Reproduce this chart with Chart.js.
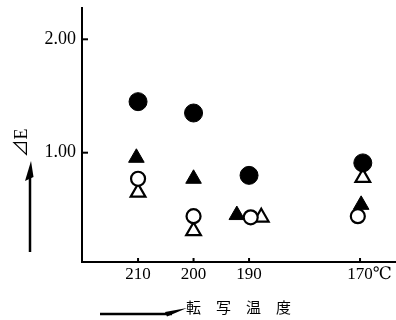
<!DOCTYPE html>
<html>
<head>
<meta charset="utf-8">
<script src="https://cdn.jsdelivr.net/npm/chart.js@4/dist/chart.umd.min.js"></script>
<style>
  html,body{margin:0;padding:0;background:#fff;}
  #wrap{width:396px;height:320px;}
</style>
</head>
<body>
<div id="wrap"><canvas id="grafica" width="396" height="320"></canvas></div>
<script>
// =========================
// DATOS
// =========================
const xTicks = [210, 200, 190, 170];
const yTicks = [1, 2];

// ● 
const filledCircleX = [210, 200, 190, 169.5];
const filledCircleY = [1.45, 1.35, 0.80, 0.91];
// ○
const openCircleX = [210, 200, 189.7, 170.4];
const openCircleY = [0.77, 0.44, 0.43, 0.44];
// ▲
const filledTriX = [210.3, 200, 192.2, 169.8];
const filledTriY = [0.955, 0.77, 0.45, 0.54];
// △
const openTriX = [210, 200, 187.8, 169.5];
const openTriY = [0.65, 0.31, 0.43, 0.78];

const serif = "'Liberation Serif', 'DejaVu Serif', 'Noto Sans CJK JP', serif";
const titleFont = "'Liberation Serif', 'Noto Sans CJK JP', serif";
const cjk = "'Noto Sans CJK JP', sans-serif";

function puntos(xs, ys){
  return xs.map((x, i) => ({x, y: ys[i]}));
}

// sin relleno automático para etiquetas extremas
function sinPadding(s){
  s.paddingLeft = 0; s.paddingRight = 0; s.paddingTop = 0; s.paddingBottom = 0;
}

// =========================
// FLECHAS / MARCAS
// =========================
const extras = {
  id: 'extras',
  afterDraw(chart){
    const {ctx, chartArea: a} = chart;
    const xs = chart.scales.x, ys = chart.scales.y;
    ctx.save();
    ctx.strokeStyle = '#000';
    ctx.fillStyle = '#000';

    // marcas hacia dentro
    ctx.lineWidth = 2;
    xTicks.forEach(v => {
      const px = xs.getPixelForValue(v);
      ctx.beginPath(); ctx.moveTo(px, a.bottom); ctx.lineTo(px, a.bottom - 4); ctx.stroke();
    });
    yTicks.forEach(v => {
      const py = ys.getPixelForValue(v);
      ctx.beginPath(); ctx.moveTo(a.left, py); ctx.lineTo(a.left + 6, py); ctx.stroke();
    });

    // ℃ junto a 170
    ctx.font = '17px ' + serif;
    const w = ctx.measureText('170').width;
    ctx.textAlign = 'left';
    ctx.textBaseline = 'middle';
    ctx.fillText('℃', xs.getPixelForValue(170) + w / 2, a.bottom + 13);

    // título del eje y
    ctx.save();
    ctx.translate(22, 143);
    ctx.rotate(-Math.PI / 2);
    ctx.textAlign = 'center';
    ctx.font = '18px ' + titleFont;
    ctx.fillText('⊿E', 0, 0);
    ctx.restore();

    // flecha vertical
    ctx.lineWidth = 2.5;
    ctx.beginPath(); ctx.moveTo(30, 252); ctx.lineTo(30, 172); ctx.stroke();
    ctx.beginPath();
    ctx.moveTo(31, 161); ctx.lineTo(25, 181); ctx.lineTo(33.5, 177); ctx.closePath(); ctx.fill();

    // flecha horizontal
    ctx.beginPath(); ctx.moveTo(100, 314); ctx.lineTo(172, 314); ctx.stroke();
    ctx.beginPath();
    ctx.moveTo(187, 308); ctx.lineTo(165, 312); ctx.lineTo(167, 316.5); ctx.closePath(); ctx.fill();

    ctx.restore();
  }
};

// =========================
// GRÁFICA
// =========================
new Chart(document.getElementById('grafica'), {
  type: 'scatter',
  data: {
    datasets: [
      {data: puntos(filledCircleX, filledCircleY), pointStyle: 'circle', pointRadius: 9,
        backgroundColor: '#000', borderColor: '#000', borderWidth: 1},
      {data: puntos(openCircleX, openCircleY), pointStyle: 'circle', pointRadius: 7,
        backgroundColor: '#fff', borderColor: '#000', borderWidth: 2.2},
      {data: puntos(filledTriX, filledTriY), pointStyle: 'triangle', pointRadius: 9,
        backgroundColor: '#000', borderColor: '#000', borderWidth: 1},
      {data: puntos(openTriX, openTriY), pointStyle: 'triangle', pointRadius: 8.5,
        backgroundColor: '#fff', borderColor: '#000', borderWidth: 2.2}
    ]
  },
  options: {
    responsive: false,
    animation: false,
    events: [],
    layout: {autoPadding: false, padding: {top: 8, right: 1, left: 0, bottom: 0}},
    plugins: {legend: {display: false}, tooltip: {enabled: false}},
    scales: {
      x: {
        type: 'linear', reverse: true, min: 163.7, max: 220.1,
        afterBuildTicks: s => { s.ticks = xTicks.map(v => ({value: v})); },
        afterFit: s => { s.height = 58; sinPadding(s); },
        grid: {display: false, drawTicks: false},
        border: {display: true, color: '#000', width: 2},
        ticks: {color: '#000', padding: 2, font: {family: serif, size: 17},
          callback: v => String(v)},
        title: {display: true, text: '転　写　温　度', color: '#000',
          font: {family: cjk, size: 15}, padding: {top: 0, bottom: 4}}
      },
      y: {
        type: 'linear', min: 0.036, max: 2.276,
        afterBuildTicks: s => { s.ticks = yTicks.map(v => ({value: v})); },
        afterFit: s => { s.width = 82; sinPadding(s); },
        grid: {display: false, drawTicks: false},
        border: {display: true, color: '#000', width: 2},
        ticks: {color: '#000', padding: 6, font: {family: serif, size: 18},
          callback: v => v.toFixed(2)}
      }
    }
  },
  plugins: [extras]
});
</script>
</body>
</html>
